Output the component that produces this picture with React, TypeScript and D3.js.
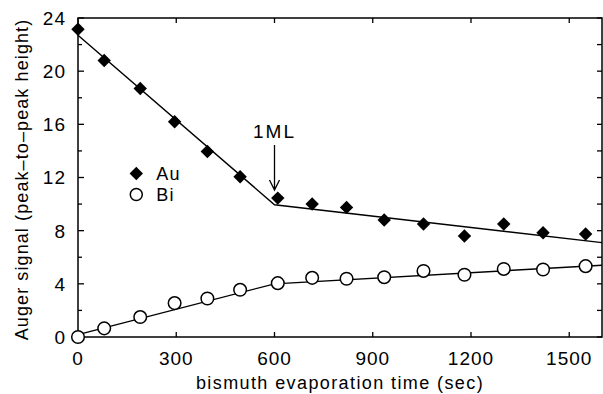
import React, { useEffect, useRef } from 'react';
import * as d3 from 'd3';

// evaporation time (sec) for each measurement
const times = [0, 80, 190, 295, 395, 495, 610, 715, 820, 935, 1055, 1180, 1300, 1420, 1550];
const auValues = [23.15, 20.8, 18.7, 16.2, 13.95, 12.05, 10.45, 10.0, 9.75, 8.8, 8.5, 7.6, 8.5, 7.85, 7.75];
const biValues = [0.0, 0.65, 1.5, 2.55, 2.9, 3.55, 4.05, 4.45, 4.38, 4.5, 4.97, 4.68, 5.12, 5.08, 5.33];

// fitted straight-line segments
const auFitX = [0, 600, 1600];
const auFitY = [22.7, 9.95, 7.1];
const biFitX = [0, 600, 1600];
const biFitY = [0.18, 4.0, 5.4];

const xTicks = [0, 300, 600, 900, 1200, 1500];
const yTicks = [0, 4, 8, 12, 16, 20, 24];
const yMinorTicks = [2, 6, 10, 14, 18, 22];

const legendItems = ['Au', 'Bi'];
const markerTime = 600;
const markerLabel = '1ML';

export default function App() {
  const svgRef = useRef<SVGSVGElement>(null);
  const width = 603;
  const height = 394;

  useEffect(() => {
    const svg = d3.select(svgRef.current);
    svg.selectAll('*').remove();

    const margin = { top: 18, right: 1, bottom: 57, left: 78 };
    const w = width - margin.left - margin.right;
    const h = height - margin.top - margin.bottom;
    const font = '"Liberation Sans", Arial, sans-serif';

    const x = d3.scaleLinear().domain([0, 1600]).range([0, w]);
    const y = d3.scaleLinear().domain([0, 24]).range([h, 0]);

    const g = svg.append('g').attr('transform', `translate(${margin.left},${margin.top})`);

    // frame
    g.append('rect')
      .attr('width', w)
      .attr('height', h)
      .attr('fill', 'none')
      .attr('stroke', '#000')
      .attr('stroke-width', 1.5);

    // ticks, all pointing inward
    const tickLine = (x1: number, y1: number, x2: number, y2: number) =>
      g.append('line')
        .attr('x1', x1).attr('y1', y1).attr('x2', x2).attr('y2', y2)
        .attr('stroke', '#000').attr('stroke-width', 1.3);

    xTicks.forEach(t => {
      tickLine(x(t), h, x(t), h - 5);
      tickLine(x(t), 0, x(t), 5);
    });
    yTicks.forEach(t => {
      tickLine(0, y(t), 6, y(t));
      tickLine(w, y(t), w - 5, y(t));
    });
    yMinorTicks.forEach(t => {
      tickLine(0, y(t), 4, y(t));
      tickLine(w, y(t), w - 5, y(t));
    });

    // tick labels
    g.selectAll('.xlab')
      .data(xTicks)
      .enter()
      .append('text')
      .attr('x', d => x(d))
      .attr('y', h + 28)
      .attr('text-anchor', 'middle')
      .attr('font-family', font)
      .attr('font-size', 19)
      .attr('letter-spacing', 1)
      .text(d => d);

    g.selectAll('.ylab')
      .data(yTicks)
      .enter()
      .append('text')
      .attr('x', -12)
      .attr('y', d => y(d))
      .attr('dy', '0.36em')
      .attr('text-anchor', 'end')
      .attr('font-family', font)
      .attr('font-size', 19)
      .attr('letter-spacing', 1)
      .text(d => d);

    // axis titles
    g.append('text')
      .attr('x', w / 2)
      .attr('y', h + 52)
      .attr('text-anchor', 'middle')
      .attr('font-family', font)
      .attr('font-size', 18)
      .attr('letter-spacing', 1.4)
      .text('bismuth evaporation time (sec)');

    g.append('text')
      .attr('transform', `translate(${-margin.left + 28},${h / 2 + 2}) rotate(-90)`)
      .attr('text-anchor', 'middle')
      .attr('font-family', font)
      .attr('font-size', 18)
      .attr('letter-spacing', 1.1)
      .text('Auger signal (peak\u2013to\u2013peak height)');

    // fitted lines
    const drawFit = (xs: number[], ys: number[]) =>
      g.append('path')
        .attr('d', d3.line<number>().x(d => x(d)).y((d, i) => y(ys[i]))(xs))
        .attr('fill', 'none')
        .attr('stroke', '#000')
        .attr('stroke-width', 1.4);

    drawFit(auFitX, auFitY);
    drawFit(biFitX, biFitY);

    // markers
    const diamond = d3.symbol().type(d3.symbolDiamond2).size(115);

    g.selectAll('.au')
      .data(times)
      .enter()
      .append('path')
      .attr('d', diamond)
      .attr('transform', (d, i) => `translate(${x(d)},${y(auValues[i])})`)
      .attr('fill', '#000');

    g.selectAll('.bi')
      .data(times)
      .enter()
      .append('circle')
      .attr('cx', d => x(d))
      .attr('cy', (d, i) => y(biValues[i]))
      .attr('r', 6.3)
      .attr('fill', '#fff')
      .attr('stroke', '#000')
      .attr('stroke-width', 1.5);

    // legend
    const lg = g.append('g').attr('transform', `translate(${x(178)},${y(12.3)})`);
    lg.append('path')
      .attr('d', diamond)
      .attr('fill', '#000');
    lg.append('circle')
      .attr('cy', 21)
      .attr('r', 6)
      .attr('fill', '#fff')
      .attr('stroke', '#000')
      .attr('stroke-width', 1.5);
    lg.selectAll('.lt')
      .data(legendItems)
      .enter()
      .append('text')
      .attr('x', 20)
      .attr('y', (d, i) => i * 21)
      .attr('dy', '0.36em')
      .attr('font-family', font)
      .attr('font-size', 18)
      .attr('letter-spacing', 1.2)
      .text(d => d);

    // 1ML arrow
    const ax = x(markerTime);
    g.append('text')
      .attr('x', ax)
      .attr('y', 120)
      .attr('text-anchor', 'middle')
      .attr('font-family', font)
      .attr('font-size', 19)
      .attr('letter-spacing', 2)
      .text(markerLabel);
    g.append('path')
      .attr('d', `M${ax},${127}V${172}M${ax - 5},${162}L${ax},${172}L${ax + 5},${162}`)
      .attr('fill', 'none')
      .attr('stroke', '#000')
      .attr('stroke-width', 1.3);
  }, []);

  return (
    <div style={{ position: 'absolute', left: 0, top: 0 }}>
      <svg ref={svgRef} width={width} height={height} style={{ display: 'block', background: '#fff' }}></svg>
    </div>
  );
}
